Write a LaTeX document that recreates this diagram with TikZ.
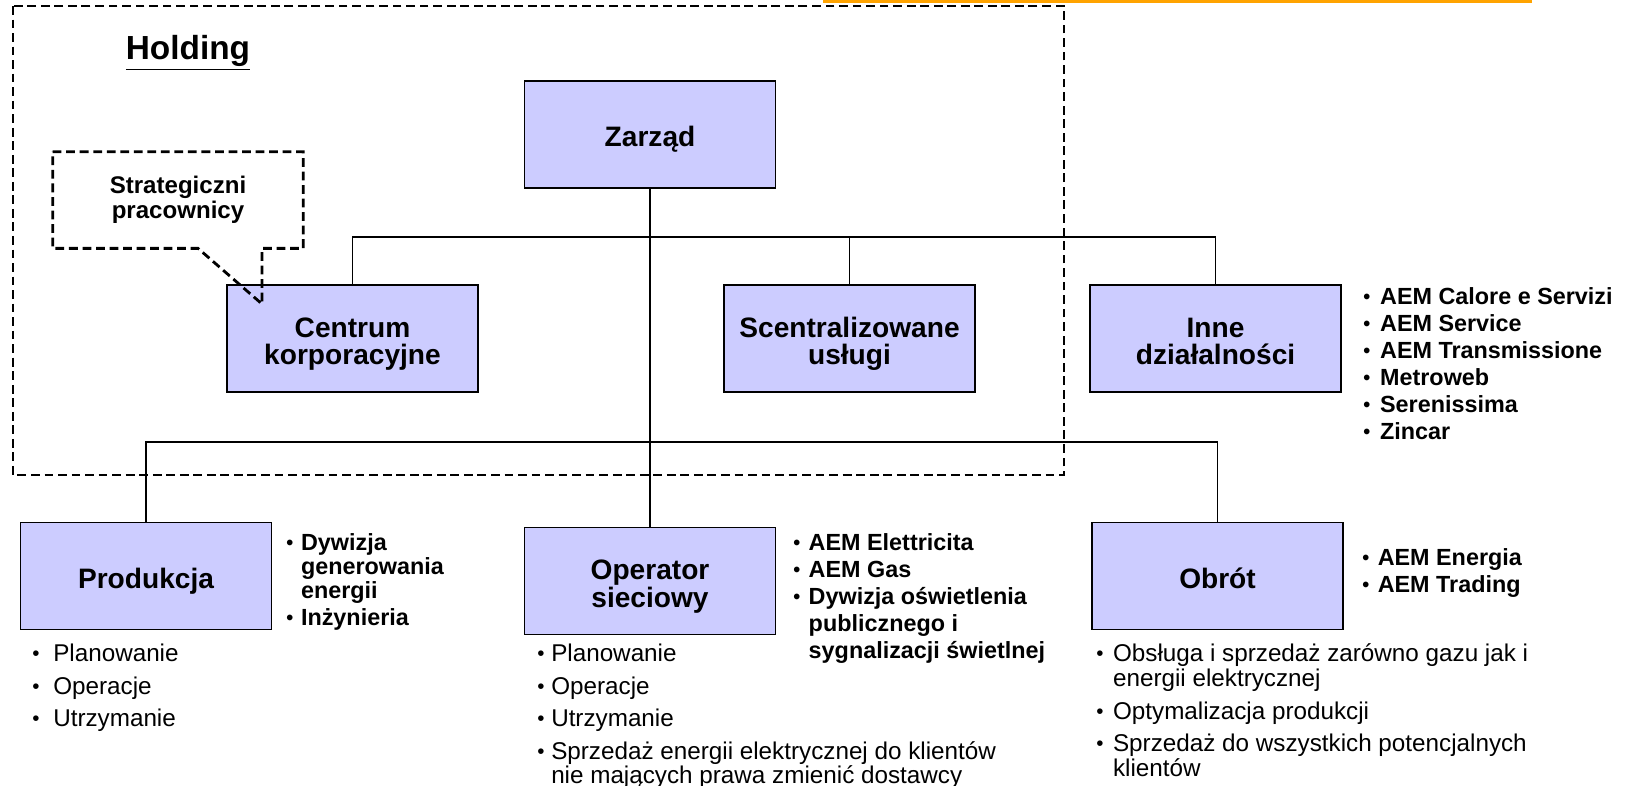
\documentclass[tikz,border=0pt]{standalone}
\usepackage{fontspec}
\setmainfont{Liberation Sans}
\definecolor{unitfill}{RGB}{204,204,255}
\definecolor{bandorange}{RGB}{255,163,0}
\newcommand{\itemdot}{\raisebox{0.08ex}{\scalebox{0.85}{•}}}

\begin{document}
\begin{tikzpicture}[x=0.02cm, y=-0.02cm,
  unit/.style={draw, line width=1pt, fill=unitfill, minimum width=5.02cm, minimum height=2.14cm, align=center, font=\fontsize{16}{15.9}\selectfont\bfseries},
  oneline/.style={text height=14.2pt, text depth=0pt},
  twoline/.style={text height=30.1pt, text depth=0pt},
  bus/.style={line width=0.7pt},
  frame/.style={line width=1.6pt, dash pattern=on 5pt off 2.7pt},
  boldlist/.style={anchor=base west, inner sep=0pt, font=\fontsize{13.3}{15.4}\selectfont\bfseries},
  plainlist/.style={anchor=base west, inner sep=0pt, font=\fontsize{13.8}{13.9}\selectfont}]

  \useasboundingbox (0,0) rectangle (1639,785);
  \fill[bandorange] (823,0) rectangle (1532,3);

  \draw[frame] (13,6) rectangle (1064,475);
  \node[font=\fontsize{19}{20}\selectfont\bfseries] (holding) at (188,53) {\underline{Holding}};

  \node[unit, oneline] (zarzad) at (650,134.5) {Zarząd};
  \node[unit, twoline] (centrum) at (352.5,338.5) {Centrum\\korporacyjne};
  \node[unit, twoline] (uslugi) at (849.5,338.5) {Scentralizowane\\usługi};
  \node[unit, twoline] (inne) at (1215.5,338.5) {Inne\\działalności};
  \node[unit, oneline] (produkcja) at (146,576) {Produkcja};
  \node[unit, twoline] (operator) at (650,581) {Operator\\sieciowy};
  \node[unit, oneline] (obrot) at (1217.5,576) {Obrót};

  \node[minimum width=5cm, minimum height=1.92cm, align=center, font=\fontsize{13.7}{14.2}\selectfont\bfseries] (strat) at (178,200) {Strategiczni\\pracownicy};
  \coordinate (tip) at (262,304);
  \draw[frame] (strat.north west) -- (strat.north east) -- (strat.south east) -- (tip |- strat.south) -- (tip) -- ([xshift=0.4cm]strat.south) -- (strat.south west) -- cycle;

  \coordinate (upbus) at (650,237);
  \coordinate (lowbus) at (650,442);
  \draw[line width=1.1pt] (zarzad.south) -- (operator.north);
  \draw[bus] (centrum.north) |- (upbus) -| (inne.north);
  \draw[bus] (uslugi.north) -- (uslugi.north |- upbus);
  \draw[bus] (produkcja.north) |- (lowbus) -| (obrot.north);

  \node[boldlist] (inneList) at (1363,304.5) {\begin{tabular}[t]{@{}l@{\hspace{5.6pt}}l@{}}
    \itemdot & AEM Calore e Servizi\\
    \itemdot & AEM Service\\
    \itemdot & AEM Transmissione\\
    \itemdot & Metroweb\\
    \itemdot & Serenissima\\
    \itemdot & Zincar
  \end{tabular}};

  \node[boldlist] (produkcjaList) at (286,550.5) {\begin{tabular}[t]{@{}l@{\hspace{4.4pt}}l@{}}
    \itemdot & Dywizja\\[-1.7pt]
             & generowania\\[-1.7pt]
             & energii\\
    \itemdot & Inżynieria
  \end{tabular}};

  \node[boldlist] (operatorList) at (793,550.5) {\begin{tabular}[t]{@{}l@{\hspace{4.8pt}}l@{}}
    \itemdot & AEM Elettricita\\
    \itemdot & AEM Gas\\
    \itemdot & Dywizja oświetlenia\\
             & publicznego i\\
             & sygnalizacji świetlnej
  \end{tabular}};

  \node[boldlist] (obrotList) at (1362,565.5) {\begin{tabular}[t]{@{}l@{\hspace{4.8pt}}l@{}}
    \itemdot & AEM Energia\\
    \itemdot & AEM Trading
  \end{tabular}};

  \node[plainlist] (produkcjaTasks) at (32,661.7) {\begin{tabular}[t]{@{}l@{\hspace{7.8pt}}l@{}}
    \itemdot & Planowanie\\[4.3pt]
    \itemdot & Operacje\\[4.3pt]
    \itemdot & Utrzymanie
  \end{tabular}};

  \node[plainlist] (operatorTasks) at (537,661.7) {\begin{tabular}[t]{@{}l@{\hspace{3.8pt}}l@{}}
    \itemdot & Planowanie\\[4.3pt]
    \itemdot & Operacje\\[4.3pt]
    \itemdot & Utrzymanie\\[4.3pt]
    \itemdot & Sprzedaż energii elektrycznej do klientów\\[-0.8pt]
             & nie mających prawa zmienić dostawcy
  \end{tabular}};

  \node[plainlist] (obrotTasks) at (1096,661.7) {\begin{tabular}[t]{@{}l@{\hspace{5.4pt}}l@{}}
    \itemdot & Obsługa i sprzedaż zarówno gazu jak i\\
             & energii elektrycznej\\[4.3pt]
    \itemdot & Optymalizacja produkcji\\[4.3pt]
    \itemdot & Sprzedaż do wszystkich potencjalnych\\
             & klientów
  \end{tabular}};

\end{tikzpicture}
\end{document}
